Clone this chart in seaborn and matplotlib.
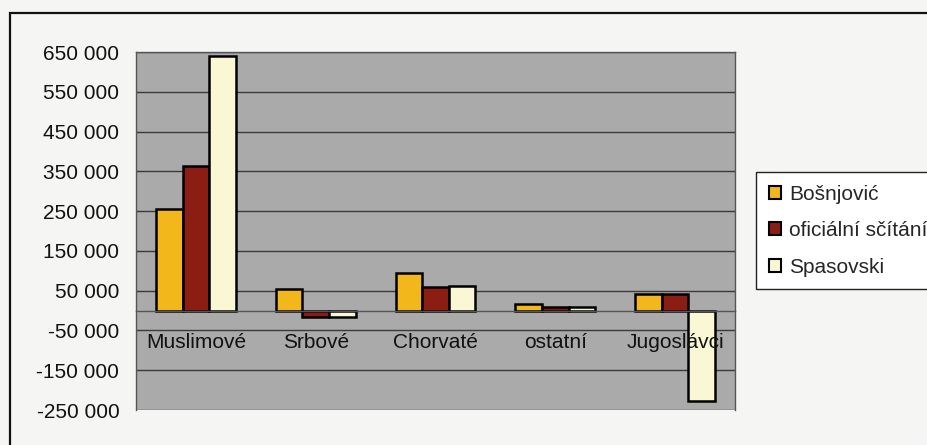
import matplotlib
matplotlib.use("Agg")
import matplotlib.pyplot as plt
from matplotlib.patches import Rectangle, Patch
import seaborn as sns
import pandas as pd

# data
skupiny = ["Muslimové", "Srbové", "Chorvaté", "ostatní", "Jugoslávci"]
zdroje = ["Bošnjović", "oficiální sčítání", "Spasovski"]
bosnjovic = [256000, 55000, 95000, 17000, 42000]
oficialni = [363000, -15000, 60000, 9000, 42000]
spasovski = [640000, -15000, 61000, 10000, -228000]
y_ticks = [-250000, -150000, -50000, 50000, 150000, 250000, 350000, 450000, 550000, 650000]
barvy = ["#F2B71A", "#8C1D12", "#FAF8D4"]

df = pd.DataFrame({
    "skupina": skupiny * 3,
    "zdroj": [z for z in zdroje for _ in skupiny],
    "hodnota": bosnjovic + oficialni + spasovski,
})

sns.set_style("white")
plt.rcParams["font.family"] = ["Liberation Sans", "DejaVu Sans"]

fig = plt.figure(figsize=(9.27, 4.45), dpi=100, facecolor="#F5F5F3")
ax = fig.add_axes([136 / 927, 1 - 410 / 445, 599 / 927, 358 / 445])
ax.set_facecolor("#AAAAAA")

sns.barplot(data=df, x="skupina", y="hodnota", hue="zdroj", hue_order=zdroje,
            palette=barvy, saturation=1, width=0.667, edgecolor="black",
            linewidth=1.8, ax=ax, legend=False)

ax.set_xlim(-0.5, 4.5)
ax.set_ylim(-250000, 650000)
ax.set_yticks(y_ticks)
ax.set_yticklabels([f"{v:,}".replace(",", " ") for v in y_ticks])
ax.yaxis.grid(True, color="#3A3A3A", linewidth=1)
ax.set_axisbelow(True)
ax.xaxis.set_zorder(3)

ax.set_xticks(range(len(skupiny)))
ax.set_xticklabels(skupiny)
ax.set_xticks([0.5, 1.5, 2.5, 3.5], minor=True)
ax.tick_params(axis="x", which="major", length=0, pad=16, labelsize=15, labelcolor="#111111")
ax.tick_params(axis="x", which="minor", length=5, width=1, direction="out", color="#333333")
ax.tick_params(axis="y", length=6, width=1, color="#333333", pad=6,
               labelsize=15, labelcolor="#111111")
ax.set_xlabel("")
ax.set_ylabel("")

ax.spines["bottom"].set_position(("data", 0))
for s in ["top", "right", "bottom", "left"]:
    ax.spines[s].set_color("#555555")
    ax.spines[s].set_linewidth(1)

handles = [Patch(facecolor=c, edgecolor="black", linewidth=1.5) for c in barvy]
fig.legend(handles, zdroje, loc="upper left", bbox_to_anchor=(756 / 927, 1 - 172 / 445),
           fontsize=15, frameon=True, fancybox=False, edgecolor="#222222",
           facecolor="white", framealpha=1, handlelength=0.6, handleheight=0.6,
           handletextpad=0.4, labelspacing=0.85, borderpad=0.6, borderaxespad=0)

# outer chart frame, running off the right and bottom edges
fig.patches.append(Rectangle((10 / 927, -0.1), 1.2, 1 - 13 / 445 + 0.1,
                             transform=fig.transFigure, fill=False,
                             edgecolor="#111111", linewidth=1.6, clip_on=False))

fig.savefig("out.png", dpi=100, facecolor=fig.get_facecolor())
